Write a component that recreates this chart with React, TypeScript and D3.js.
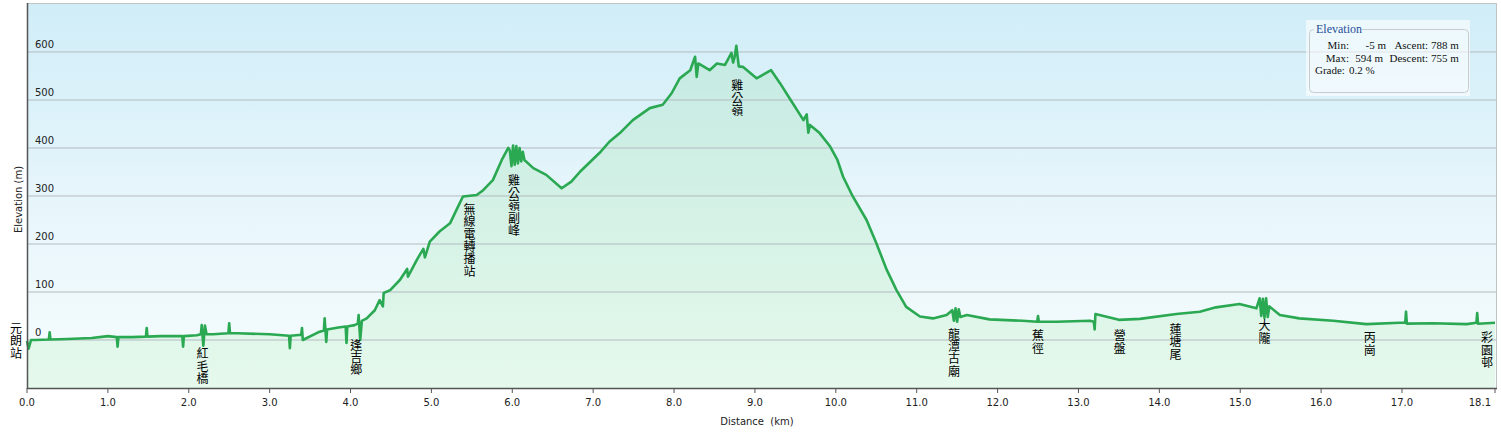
import React from "react";
import * as d3 from "d3";

// ---- data ----
const distances: number[] = [
  0.0, 0.02, 0.05, 0.1, 0.27, 0.28, 0.29, 0.5, 0.8, 0.95, 1.0, 1.11, 1.12, 1.13, 1.3,
  1.47, 1.48, 1.49, 1.65, 1.92, 1.93, 1.94, 2.1, 2.15, 2.16, 2.18, 2.2, 2.22, 2.3,
  2.49, 2.5, 2.51, 2.6, 3.0, 3.24, 3.25, 3.26, 3.39, 3.4, 3.41, 3.6, 3.67, 3.68, 3.7,
  3.71, 3.85, 3.94, 3.95, 3.96, 4.05, 4.09, 4.1, 4.12, 4.14, 4.2, 4.3, 4.36, 4.4, 4.41,
  4.49, 4.61, 4.7, 4.71, 4.82, 4.9, 4.92, 4.98, 5.1, 5.23, 5.31, 5.39, 5.56, 5.64,
  5.76, 5.87, 5.95, 5.97, 5.99, 6.01,
  6.03, 6.05, 6.07, 6.09, 6.11, 6.13, 6.15, 6.26, 6.42, 6.61, 6.73, 6.84, 7.08, 7.2,
  7.33, 7.49, 7.7, 7.86, 7.97, 8.07, 8.2, 8.26, 8.28, 8.3, 8.44, 8.53, 8.63, 8.71,
  8.73, 8.75, 8.77, 8.8, 8.85, 9.02, 9.2, 9.31, 9.43, 9.6, 9.64, 9.66, 9.68, 9.8,
  9.93, 10.02, 10.09, 10.21, 10.38, 10.5, 10.63, 10.75, 10.87, 11.04, 11.2, 11.37,
  11.44, 11.46, 11.48, 11.5, 11.52, 11.54, 11.62, 11.9, 12.31, 12.49, 12.5, 12.51,
  12.73, 13.14, 13.19, 13.2, 13.21, 13.5, 13.76, 14.21, 14.5, 14.7, 14.99, 15.2,
  15.24, 15.26, 15.28, 15.3, 15.32, 15.34, 15.36, 15.49, 15.73, 16.15, 16.56, 16.97,
  17.04, 17.05, 17.06, 17.38, 17.8, 17.92, 17.93, 17.94, 18.15,
];
const elevations: number[] = [
  -2, -18, 0, 0, 1, 16, 1, 2, 4, 7, 8, 6, -14, 6, 6,
  7, 25, 7, 8, 8, -14, 8, 10, 12, 31, -12, 30, 12, 12,
  14, 35, 14, 14, 12, 9, -17, 9, 11, 25, 0, 16, 20, 45, -4,
  22, 26, 28, -6, 28, 31, 34, 52, 0, 40, 45, 62, 83, 70, 98,
  104, 125, 148, 132, 167, 190, 172, 205, 226, 243, 271, 299, 302, 312,
  333, 375, 400, 395, 362, 405,
  365, 404, 368, 400, 372, 392, 375, 358, 344, 316, 330, 351, 390, 413,
  431, 458, 483, 490, 514, 545, 562, 590, 548, 576, 562, 576, 573, 598,
  578, 590, 613, 570, 569, 545, 562, 535, 503, 458, 470, 432, 448, 431,
  403, 375, 340, 299, 250, 202, 146, 104, 69, 49, 45, 52,
  62, 40, 66, 38, 64, 48, 52, 43, 40, 38, 50, 38,
  38, 40, 38, 22, 54, 42, 44, 54, 59, 68, 75, 66,
  87, 50, 86, 46, 87, 48, 70, 52, 45, 40, 33, 36,
  36, 59, 34, 35, 33, 36, 56, 34, 36,
];

const wptNames: string[] = [
  "元朗站", "紅毛橋", "逢吉鄉", "無線電轉播站", "雞公嶺副峰", "雞公嶺",
  "龍潭古廟", "蕉徑", "營盤", "蓮塘尾", "大隴", "丙崗", "彩園邨",
];
const wptDistances: number[] = [0, 2.17, 4.07, 5.47, 6.02, 8.78, 11.46, 12.5, 13.51, 14.2, 15.3, 16.6, 18.05];
const wptLabelElev: number[] = [37, -16, 2, 285, 344, 542, 25, 21, 21, 35, 42, 17, 17];

const yTicks: number[] = [0, 100, 200, 300, 400, 500, 600];
const xTicks: number[] = [0, 1, 2, 3, 4, 5, 6, 7, 8, 9, 10, 11, 12, 13, 14, 15, 16, 17];
const xEnd = 18.15;
const xEndLabel = "18.1";

const statsMin = "-5 m";
const statsMax = "594 m";
const statsAscent = "788 m";
const statsDescent = "755 m";
const statsGrade = "0.2 %";

// ---- layout ----
const W = 1501;
const H = 435;
const L = 27;
const R = 1495;
const T = 3;
const B = 388;

export default function App() {
  const x = d3.scaleLinear().domain([0, xEnd]).range([L, R]);
  const y = d3.scaleLinear().domain([-100, 702]).range([B, T]);
  const pts: [number, number][] = distances.map((d, i) => [d, elevations[i]]);
  const line = d3
    .line<[number, number]>()
    .x((p) => x(p[0]))
    .y((p) => y(p[1]));
  const area = d3
    .area<[number, number]>()
    .x((p) => x(p[0]))
    .y0(B)
    .y1((p) => y(p[1]));

  const tickFont = "'DejaVu Sans', Verdana, sans-serif";
  const serif = "'Liberation Serif', 'DejaVu Serif', serif";

  return (
    <div style={{ position: "absolute", left: 0, top: 0 }}>
      <svg width={W} height={H} style={{ display: "block", background: "#fff" }}>
        <defs>
          <linearGradient id="sky" x1="0" y1="0" x2="0" y2="1">
            <stop offset="0" stopColor="#d0edf8" />
            <stop offset="0.55" stopColor="#e8f6fb" />
            <stop offset="1" stopColor="#f6fcfd" />
          </linearGradient>
          <linearGradient id="ground" x1="0" y1="0" x2="0" y2="1">
            <stop offset="0" stopColor="#9fe0b4" stopOpacity="0.3" />
            <stop offset="1" stopColor="#d8f7df" stopOpacity="0.55" />
          </linearGradient>
        </defs>
        <rect x={L} y={T} width={R - L + 1} height={B - T} fill="url(#sky)" />
        <path d={area(pts) || ""} fill="url(#ground)" />
        {/* grid */}
        {yTicks.map((t) => (
          <line key={"g" + t} x1={L} x2={R + 1} y1={y(t)} y2={y(t)} stroke="#b4bcc0" strokeWidth={1} />
        ))}
        {yTicks.map((t) => (
          <text key={"yl" + t} x={L + 8} y={y(t) - 4} fontFamily={tickFont} fontSize={10} fill="#222">
            {t}
          </text>
        ))}
        {/* top & right border */}
        <line x1={L} x2={R + 1} y1={T + 0.5} y2={T + 0.5} stroke="#bfc4c6" />
        <line x1={R + 1.5} x2={R + 1.5} y1={T} y2={B} stroke="#bfc4c6" />
        {/* profile */}
        <path d={line(pts) || ""} fill="none" stroke="#2aa852" strokeWidth={2.6} strokeLinejoin="round" />
        {/* waypoint labels */}
        {wptNames.map((n, i) => {
          const lx = wptDistances[i] <= 0 ? x(0) - 11 : x(wptDistances[i]);
          const top = y(wptLabelElev[i]);
          return (
            <text
              key={"w" + i}
              x={lx}
              y={top}
              fontFamily="'Noto Sans CJK TC', 'Noto Sans CJK SC', sans-serif"
              fontSize={12}
              letterSpacing={0.4}
              fill="#000"
              style={{ writingMode: "vertical-rl", textOrientation: "upright" } as any}
            >
              {n}
            </text>
          );
        })}
        {/* axes */}
        <line x1={L + 0.5} x2={L + 0.5} y1={T} y2={B + 1} stroke="#555" strokeWidth={1.5} />
        <line x1={L} x2={R + 2} y1={B + 0.5} y2={B + 0.5} stroke="#555" strokeWidth={1.5} />
        {[...xTicks, xEnd].map((t, i) => (
          <g key={"xt" + i}>
            <line x1={x(t)} x2={x(t)} y1={B} y2={B + 5} stroke="#555" strokeWidth={1} />
            <text
              x={t === xEnd ? x(t) - 4 : x(t)}
              y={B + 18}
              textAnchor={t === xEnd ? "end" : "middle"}
              fontFamily={tickFont}
              fontSize={10}
              fill="#222"
            >
              {t === xEnd ? xEndLabel : t.toFixed(1)}
            </text>
          </g>
        ))}
        <text
          x={(L + R) / 2 - 4}
          y={425}
          textAnchor="middle"
          fontFamily={tickFont}
          fontSize={10}
          fill="#222"
          style={{ whiteSpace: "pre" }}
        >
          {"Distance  (km)"}
        </text>
        <text
          transform={`translate(22, ${(T + B) / 2 + 4}) rotate(-90)`}
          textAnchor="middle"
          fontFamily={tickFont}
          fontSize={10}
          fill="#222"
        >
          Elevation (m)
        </text>
        {/* stats box */}
        <rect x={1306} y={20} width={164} height={76} fill="#ffffff" fillOpacity={0.6} />
        <path
          d="M1314,29.5 L1313.5,29.5 Q1309.5,29.5 1309.5,33.5 L1309.5,88.5 Q1309.5,92.5 1313.5,92.5 L1464.5,92.5 Q1468.5,92.5 1468.5,88.5 L1468.5,33.5 Q1468.5,29.5 1464.5,29.5 L1362,29.5"
          fill="none"
          stroke="#c9cccd"
        />
        <text x={1316} y={33} fontFamily={serif} fontSize={12} fill="#1f4f99">
          Elevation
        </text>
        <g fontFamily={serif} fontSize={11} fill="#111">
          <text x={1349} y={49} textAnchor="end">Min:</text>
          <text x={1386} y={49} textAnchor="end">{statsMin}</text>
          <text x={1428} y={49} textAnchor="end">Ascent:</text>
          <text x={1431} y={49}>{statsAscent}</text>
          <text x={1349} y={62} textAnchor="end">Max:</text>
          <text x={1383} y={62} textAnchor="end">{statsMax}</text>
          <text x={1428} y={62} textAnchor="end">Descent:</text>
          <text x={1431} y={62}>{statsDescent}</text>
          <text x={1315} y={74}>Grade:</text>
          <text x={1349} y={74}>{statsGrade}</text>
        </g>
      </svg>
    </div>
  );
}
